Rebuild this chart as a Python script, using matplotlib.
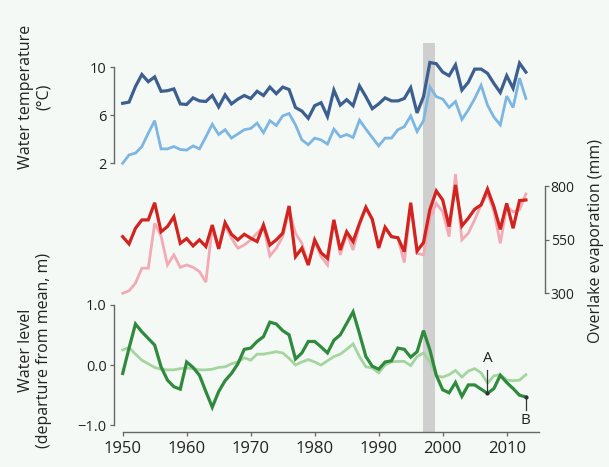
import matplotlib
matplotlib.use("Agg")
import matplotlib.pyplot as plt

plt.rcParams['font.family'] = ['Open Sans', 'DejaVu Sans']

# Data
years = list(range(1950, 2014))

temp_dark = [7.0, 7.1, 8.4, 9.4, 8.8, 9.2, 8.0, 8.05, 8.2, 6.95,
             6.9, 7.45, 7.2, 7.15, 7.65, 6.7, 7.7, 6.95, 7.35, 7.65,
             7.4, 8.0, 7.65, 8.35, 7.8, 8.35, 8.15, 6.65, 6.35, 5.75,
             6.8, 7.05, 5.9, 8.1, 6.85, 7.3, 6.8, 8.45, 7.55, 6.55,
             6.95, 7.45, 7.2, 7.2, 7.4, 8.3, 6.2, 7.55, 10.4, 10.3,
             9.6, 9.3, 10.2, 8.1, 8.75, 9.85, 9.85, 9.5, 8.65, 7.9,
             9.3, 8.25, 10.35, 9.6]
temp_light = [2.0, 2.7, 2.85, 3.4, 4.5, 5.55, 3.2, 3.2, 3.4, 3.15,
              3.1, 3.45, 3.2, 4.2, 5.25, 4.4, 4.8, 4.1, 4.45, 4.8,
              4.9, 5.35, 4.55, 5.55, 5.15, 5.95, 6.15, 5.2, 3.95, 3.55,
              4.1, 3.95, 3.6, 4.85, 4.2, 4.4, 4.15, 5.6, 4.85, 4.15,
              3.45, 4.1, 4.1, 4.8, 5.05, 5.95, 4.65, 5.55, 8.35, 7.55,
              7.35, 6.65, 7.15, 5.65, 6.45, 7.4, 8.5, 6.85, 5.85, 5.2,
              7.6, 6.65, 9.1, 7.4]

evap_dark = [564, 530, 603, 642, 642, 722, 587, 611, 657, 533,
             555, 521, 549, 518, 618, 507, 629, 575, 549, 575,
             557, 541, 618, 525, 549, 580, 707, 471, 510, 432,
             549, 489, 463, 642, 502, 587, 541, 626, 701, 645,
             513, 608, 564, 559, 494, 722, 497, 536, 690, 777,
             735, 611, 805, 614, 650, 692, 712, 786, 704, 598,
             719, 603, 732, 735]
evap_light = [300, 312, 347, 417, 417, 626, 567, 432, 479, 421,
              432, 421, 401, 352, 611, 510, 618, 557, 510, 525,
              549, 580, 611, 474, 510, 564, 688, 580, 533, 432,
              541, 471, 432, 642, 479, 580, 502, 618, 697, 642,
              506, 603, 564, 557, 443, 711, 486, 479, 650, 719,
              680, 564, 856, 549, 580, 642, 712, 766, 680, 533,
              704, 680, 689, 763]

level_dark = [-0.14, 0.28, 0.68, 0.55, 0.44, 0.33, -0.03, -0.25, -0.36, -0.40,
              0.05, -0.04, -0.17, -0.44, -0.70, -0.44, -0.26, -0.14, 0.02, 0.26,
              0.28, 0.39, 0.47, 0.71, 0.68, 0.57, 0.50, 0.10, 0.20, 0.39,
              0.39, 0.30, 0.20, 0.41, 0.50, 0.69, 0.88, 0.52, 0.14, -0.02,
              -0.07, 0.05, 0.07, 0.28, 0.26, 0.13, 0.22, 0.57, 0.25, -0.17,
              -0.41, -0.46, -0.29, -0.52, -0.33, -0.33, -0.40, -0.47, -0.39, -0.17,
              -0.29, -0.39, -0.50, -0.53]
level_light = [0.25, 0.29, 0.18, 0.08, 0.02, -0.04, -0.07, -0.08, -0.08, -0.06,
               -0.05, -0.06, -0.08, -0.08, -0.07, -0.04, -0.03, 0.02, 0.05, 0.12,
               0.08, 0.18, 0.18, 0.20, 0.22, 0.20, 0.11, 0.00, 0.05, 0.09,
               0.05, 0.00, 0.07, 0.14, 0.18, 0.26, 0.35, 0.14, -0.03, -0.05,
               -0.13, 0.00, 0.05, 0.06, 0.06, -0.01, 0.14, 0.20, 0.05, -0.18,
               -0.20, -0.16, -0.09, -0.20, -0.10, -0.06, -0.13, -0.30, -0.18, -0.16,
               -0.25, -0.26, -0.25, -0.16]

shade_span = (1997, 1998.8)
x_ticks = [1950, 1960, 1970, 1980, 1990, 2000, 2010]

W, H = 609, 467
BG = '#f4f9f6'
SPINE = '#666666'
TEXT = '#222222'


def box(top, bottom, left=113.7, right=545.1):
    """Axes rectangle from pixel edges (measured from the top-left)."""
    return [left / W, 1 - bottom / H, (right - left) / W, (bottom - top) / H]


def style_axis(ax):
    ax.set_facecolor('none')
    ax.set_xlim(1948.6, 2016)
    for s in ax.spines.values():
        s.set_visible(False)
        s.set_color(SPINE)
        s.set_linewidth(1.0)
    ax.tick_params(length=3, width=0.9, color=SPINE, labelcolor=TEXT, pad=2)
    ax.set_xticks([])


def plot_lake_panels():
    fig = plt.figure(figsize=(W / 100, H / 100), dpi=100, facecolor=BG)

    # background axes: shaded years and the shared year axis
    ax_bg = fig.add_axes(box(42.7, 431.7))
    style_axis(ax_bg)
    ax_bg.set_ylim(0, 1)
    ax_bg.set_yticks([])
    ax_bg.axvspan(*shade_span, color='#cfcfcf', lw=0)
    ax_bg.spines['bottom'].set_visible(True)
    ax_bg.spines['bottom'].set_bounds(1950, 2015)
    ax_bg.set_xticks(x_ticks)
    ax_bg.tick_params(axis='x', labelsize=12, length=3, pad=4)

    # water temperature
    ax_t = fig.add_axes(box(40, 175))
    style_axis(ax_t)
    ax_t.set_ylim(1.025, 12.275)
    ax_t.spines['left'].set_visible(True)
    ax_t.spines['left'].set_bounds(2, 10)
    ax_t.set_yticks([2, 6, 10])
    ax_t.tick_params(axis='y', labelsize=10.5)
    ax_t.plot(years, temp_light, color='#7db5e3', lw=2.0, solid_joinstyle='miter')
    ax_t.plot(years, temp_dark, color='#3c5f8f', lw=2.3, solid_joinstyle='miter')

    # overlake evaporation
    ax_m = fig.add_axes(box(170, 300))
    style_axis(ax_m)
    ax_m.set_ylim(268.8, 874.6)
    ax_m.spines['right'].set_visible(True)
    ax_m.spines['right'].set_bounds(300, 800)
    ax_m.yaxis.tick_right()
    ax_m.set_yticks([300, 550, 800])
    ax_m.tick_params(axis='y', labelsize=10, pad=1)
    ax_m.plot(years, evap_light, color='#f3aab5', lw=2.0, solid_joinstyle='miter')
    ax_m.plot(years, evap_dark, color='#d2231f', lw=2.3, solid_joinstyle='miter')

    # water level
    ax_b = fig.add_axes(box(295, 431.7))
    style_axis(ax_b)
    ax_b.set_ylim(-1.105, 1.16)
    ax_b.spines['left'].set_visible(True)
    ax_b.spines['left'].set_bounds(-1, 1)
    ax_b.set_yticks([-1, 0, 1])
    ax_b.set_yticklabels(['\u22121.0', '0.0', '1.0'])
    ax_b.tick_params(axis='y', labelsize=10.5)
    ax_b.plot(years, level_light, color='#a5d59e', lw=2.0, solid_joinstyle='miter')
    ax_b.plot(years, level_dark, color='#2f8a3d', lw=2.3, solid_joinstyle='miter')

    # point labels A and B
    ia, ib = years.index(2007), years.index(2013)
    ax_b.plot([2007, 2007], [-0.08, level_dark[ia]], color='#333333', lw=0.9)
    ax_b.plot([2007], [level_dark[ia]], 'o', color='#333333', ms=2)
    ax_b.text(2007, 0.1, 'A', ha='center', va='center', fontsize=11, color=TEXT)
    ax_b.plot([2013, 2013], [-0.75, level_dark[ib]], color='#333333', lw=0.9)
    ax_b.plot([2013], [level_dark[ib]], 'o', color='#333333', ms=2)
    ax_b.text(2013, -0.92, 'B', ha='center', va='center', fontsize=11, color=TEXT)

    # axis titles
    fig.text(35 / W, 1 - 97 / H, 'Water temperature\n(\u00b0C)', rotation=90,
             ha='center', va='center', multialignment='center', fontsize=11.5, color=TEXT,
             linespacing=1.1)
    fig.text(35 / W, 1 - 350 / H, 'Water level\n(departure from mean, m)', rotation=90,
             ha='center', va='center', multialignment='center', fontsize=11.5, color=TEXT,
             linespacing=1.1)
    fig.text(596 / W, 1 - 241 / H, 'Overlake evaporation (mm)', rotation=90,
             ha='center', va='center', fontsize=11.5, color=TEXT)

    fig.savefig('out.png', dpi=100, facecolor=BG)


if __name__ == "__main__":
    plot_lake_panels()
